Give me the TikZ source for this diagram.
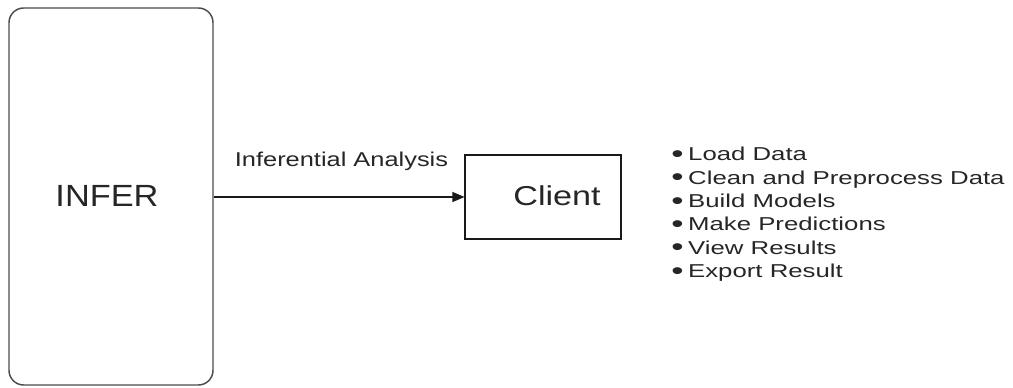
\documentclass[tikz,border=0pt]{standalone}
\usepackage{fontspec}
\setmainfont{Liberation Sans}
\newfontfamily\inferfont[FakeStretch=1.12]{Liberation Sans}
\newfontfamily\clientfont[FakeStretch=1.25]{Liberation Sans}
\newfontfamily\labelfont[FakeStretch=1.27]{Liberation Sans}
\newfontfamily\listfont[FakeStretch=1.38]{Liberation Sans}
\usetikzlibrary{arrows.meta, positioning}
\colorlet{cText}{black!85}
\newcommand{\infbullet}{\raisebox{-1.2pt}{\fontsize{19}{19}\selectfont •}}
\tikzset{
  infbox/.style={rectangle, rounded corners=11pt, draw=black!70, line width=1.1pt,
                 minimum width=153pt, minimum height=282.75pt, inner sep=0pt},
  infclient/.style={rectangle, draw=black!90, line width=0.8pt,
                    minimum width=117pt, minimum height=63pt, inner sep=0pt},
  inftext/.style={text=cText, inner sep=0pt},
  infitem/.style={inftext, anchor=base west, font=\listfont\fontsize{14}{16}\selectfont},
  infarrow/.style={-{Triangle[length=9pt, width=7.5pt]}, line width=0.8pt, black!90},
}

\begin{document}
\begin{tikzpicture}[x=0.75pt, y=-0.75pt]
  \useasboundingbox (0,0) rectangle (1013,388);

  % boxes
  \node[infbox] (infer) at (111,196.5) {};
  \node[inftext, anchor=base, font=\inferfont\fontsize{23}{26}\selectfont] (infertxt)
    at (107,207) {INFER};
  \node[infclient] (client) at (543,197) {};
  \node[inftext, anchor=base, font=\clientfont\fontsize{20.5}{24}\selectfont] (clienttxt)
    at (557,206) {Client};

  % link
  \draw[infarrow] (infer.east |- client.west) -- (client.west);
  \node[inftext, anchor=base, font=\labelfont\fontsize{15}{18}\selectfont] (linklabel)
    at (341.5,166.5) {Inferential Analysis};

  % task list
  \foreach \txt [count=\i from 0] in {Load Data, Clean and Preprocess Data, Build Models,
      Make Predictions, View Results, Export Result}
    \node[infitem] (task-\i) at (671,161+23.3*\i) {\infbullet\hspace{3.5pt}\txt};
\end{tikzpicture}
\end{document}
